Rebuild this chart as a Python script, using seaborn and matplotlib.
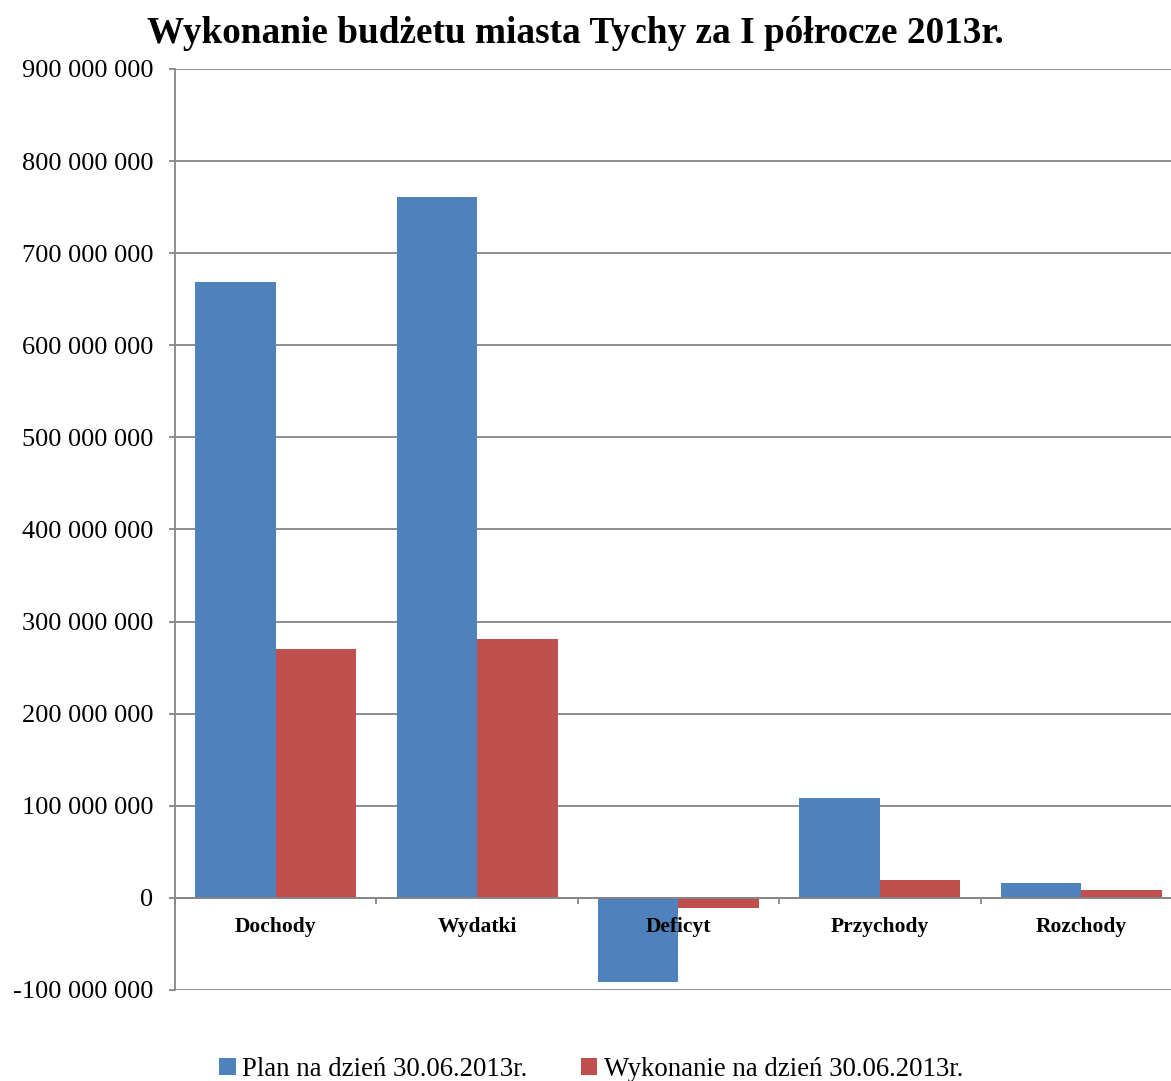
import matplotlib
matplotlib.use("Agg")
import matplotlib.pyplot as plt
import seaborn as sns
import pandas as pd
from matplotlib.ticker import FuncFormatter, FixedLocator

categories = ["Dochody", "Wydatki", "Deficyt", "Przychody", "Rozchody"]
series_names = ["Plan na dzień 30.06.2013r.", "Wykonanie na dzień 30.06.2013r."]
plan = [669_000_000, 761_000_000, -91_000_000, 108_500_000, 16_300_000]
wykonanie = [270_000_000, 281_000_000, -11_000_000, 19_500_000, 8_700_000]
title = "Wykonanie budżetu miasta Tychy za I półrocze 2013r."

df = pd.DataFrame({
    "kategoria": categories * 2,
    "seria": [series_names[0]] * len(categories) + [series_names[1]] * len(categories),
    "wartosc": plan + wykonanie,
})

sns.set_theme(style="white")
plt.rcParams["font.family"] = ["Liberation Serif", "DejaVu Serif"]
plt.rcParams["text.color"] = "black"
plt.rcParams["xtick.color"] = "black"
plt.rcParams["ytick.color"] = "black"

fig = plt.figure(figsize=(11.71, 10.81), dpi=100)
ax = fig.add_axes([0.1494, 0.0842, 0.86, 0.852])

palette = {series_names[0]: "#4F81BD", series_names[1]: "#C0504D"}
sns.barplot(data=df, x="kategoria", y="wartosc", hue="seria", order=categories,
            hue_order=series_names, palette=palette, width=0.8, saturation=1,
            linewidth=0, ax=ax, legend=True)

grey = "#868686"
ax.set_ylim(-100_000_000, 900_000_000)
ax.set_xlim(-0.5, len(categories) - 0.5)
ax.set_yticks(range(-100_000_000, 900_000_001, 100_000_000))
ax.yaxis.set_major_formatter(FuncFormatter(lambda v, p: f"{int(v):,}".replace(",", " ")))
ax.grid(axis="y", color=grey, linewidth=1.3)
ax.set_axisbelow(True)
ax.tick_params(axis="y", labelsize=19, length=4.5, color=grey, labelcolor="black",
               width=1.3, left=True, pad=11.3)

for s in ["top", "right"]:
    ax.spines[s].set_visible(False)
ax.spines["left"].set_color(grey)
ax.spines["left"].set_linewidth(1.3)
ax.spines["bottom"].set_position(("data", 0))
ax.spines["bottom"].set_color(grey)
ax.spines["bottom"].set_linewidth(1.3)

ax.xaxis.set_minor_locator(FixedLocator([i - 0.5 for i in range(len(categories) + 1)]))
ax.tick_params(axis="x", which="minor", length=4.5, color=grey, width=1.3, bottom=True, direction="out")
ax.tick_params(axis="x", which="major", length=0, labelbottom=False)
ax.set_xlabel("")
ax.set_ylabel("")

# category labels drawn above the bars, just below the zero line
for i, cat in enumerate(categories):
    ax.annotate(cat, xy=(i, 0), xycoords="data", xytext=(0, -21), textcoords="offset points",
                ha="center", va="center", fontsize=15.5, fontweight="bold", color="black", zorder=10)

ax.get_legend().remove()
handles, labels = ax.get_legend_handles_labels()
fig.legend(handles, labels, loc="lower center", bbox_to_anchor=(0.505, -0.023), ncol=2,
           frameon=False, fontsize=19.3, handlelength=0.6, handleheight=0.6,
           handletextpad=0.25, columnspacing=2.0, labelcolor="black")

fig.text(0.491, 0.969, title, ha="center", va="center", fontsize=26.8, fontweight="bold", color="black")

fig.savefig("out.png", dpi=100)
